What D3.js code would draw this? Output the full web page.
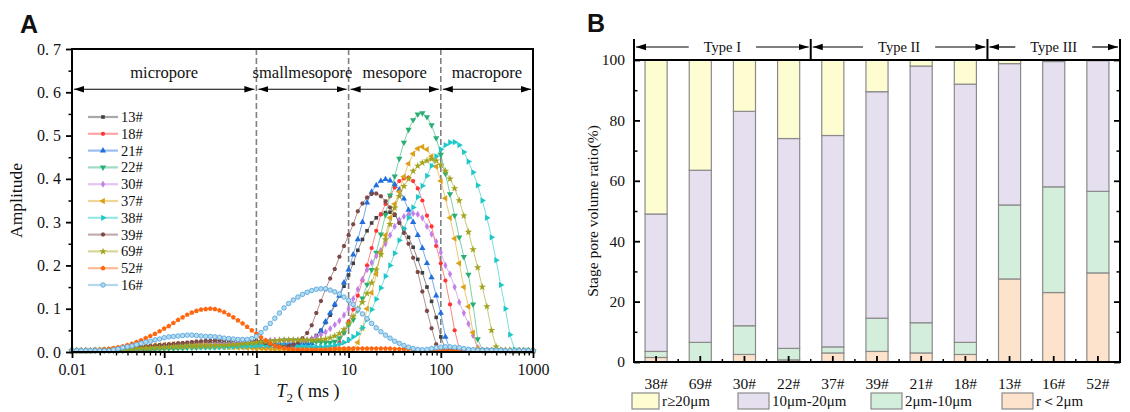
<!DOCTYPE html>
<html>
<head>
<meta charset="utf-8">
<script src="https://cdn.jsdelivr.net/npm/d3@7"></script>
<style>
  body { margin: 0; background: #fff; }
  svg { display: block; }
  text { font-family: "Liberation Serif", "Times New Roman", serif; fill: #111; }
</style>
</head>
<body>
<div id="chart"></div>
<script>
const width = 1130
const height = 412

// ---- panel A data : T2 grid (ms) and amplitude of each sample
const t2 = [
  0.01,0.01122,0.01259,0.01413,0.01585,0.01778,0.01995,0.02239,0.02512,0.02818,0.03162,0.03548,0.03981,0.04467,0.05012,0.05623,0.0631,0.07079,0.07943,0.08913,
  0.1,0.1122,0.1259,0.1413,0.1585,0.1778,0.1995,0.2239,0.2512,0.2818,0.3162,0.3548,0.3981,0.4467,0.5012,0.5623,0.631,0.7079,0.7943,0.8913,
  1,1.122,1.259,1.413,1.585,1.778,1.995,2.239,2.512,2.818,3.162,3.548,3.981,4.467,5.012,5.623,6.31,7.079,7.943,8.913,
  10,11.22,12.59,14.13,15.85,17.78,19.95,22.39,25.12,28.18,31.62,35.48,39.81,44.67,50.12,56.23,63.1,70.79,79.43,89.13,
  100,112.2,125.9,141.3,158.5,177.8,199.5,223.9,251.2,281.8,316.2,354.8,398.1,446.7,501.2,562.3,631,707.9,794.3,891.3,
  1000
]

const s13 = [
  0.003,0.003,0.003,0.003,0.003,0.003,0.003,0.003,0.003,0.003,
  0.003,0.004,0.004,0.005,0.006,0.007,0.008,0.009,0.011,0.012,
  0.013,0.014,0.015,0.016,0.017,0.018,0.019,0.02,0.021,0.021,
  0.022,0.022,0.022,0.022,0.022,0.022,0.022,0.021,0.021,0.02,
  0.019,0.018,0.017,0.016,0.015,0.015,0.015,0.016,0.017,0.019,
  0.022,0.025,0.03,0.038,0.05,0.068,0.085,0.108,0.13,0.152,
  0.178,0.205,0.235,0.26,0.28,0.298,0.31,0.318,0.322,0.323,
  0.316,0.302,0.285,0.265,0.242,0.214,0.183,0.15,0.117,0.08,
  0.035,0.006,0.004,0.004,0.004,0.004,0.004,0.004,0.004,0.004,
  0.004,0.004,0.004,0.004,0.003,0.003,0.003,0.003,0.003,0.003,
  0.003]
const s18 = [
  0.003,0.003,0.003,0.003,0.003,0.003,0.003,0.003,0.003,0.003,
  0.003,0.003,0.004,0.004,0.005,0.005,0.006,0.007,0.008,0.009,
  0.01,0.011,0.012,0.012,0.013,0.013,0.014,0.014,0.014,0.014,
  0.014,0.014,0.014,0.013,0.013,0.013,0.012,0.012,0.012,0.011,
  0.011,0.011,0.01,0.01,0.01,0.01,0.01,0.01,0.01,0.01,
  0.01,0.01,0.01,0.01,0.01,0.01,0.01,0.012,0.022,0.044,
  0.07,0.098,0.13,0.165,0.2,0.24,0.28,0.318,0.342,0.36,
  0.38,0.395,0.401,0.403,0.395,0.378,0.35,0.315,0.29,0.245,
  0.205,0.165,0.11,0.05,0.008,0.004,0.004,0.004,0.004,0.004,
  0.004,0.004,0.004,0.004,0.003,0.003,0.003,0.003,0.003,0.003,
  0.003]
const s21 = [
  0.003,0.003,0.003,0.003,0.003,0.003,0.003,0.003,0.003,0.003,
  0.003,0.004,0.004,0.005,0.006,0.006,0.007,0.008,0.009,0.01,
  0.011,0.012,0.012,0.013,0.013,0.014,0.014,0.015,0.015,0.016,
  0.016,0.017,0.017,0.018,0.018,0.019,0.019,0.02,0.02,0.021,
  0.021,0.021,0.02,0.02,0.02,0.019,0.019,0.019,0.019,0.019,
  0.019,0.019,0.02,0.026,0.048,0.07,0.09,0.11,0.13,0.16,
  0.19,0.225,0.26,0.3,0.345,0.37,0.385,0.395,0.399,0.396,
  0.387,0.375,0.354,0.328,0.3,0.27,0.24,0.205,0.172,0.13,
  0.09,0.035,0.006,0.004,0.004,0.004,0.004,0.004,0.004,0.004,
  0.004,0.004,0.004,0.004,0.003,0.003,0.003,0.003,0.003,0.003,
  0.003]
const s22 = [
  0.003,0.003,0.003,0.003,0.003,0.003,0.003,0.003,0.003,0.003,
  0.003,0.003,0.004,0.004,0.004,0.005,0.005,0.006,0.006,0.007,
  0.007,0.008,0.008,0.009,0.009,0.01,0.01,0.01,0.011,0.011,
  0.011,0.011,0.012,0.012,0.013,0.013,0.014,0.015,0.016,0.018,
  0.02,0.022,0.024,0.025,0.026,0.026,0.027,0.027,0.027,0.027,
  0.026,0.026,0.025,0.024,0.023,0.022,0.022,0.024,0.032,0.045,
  0.062,0.075,0.097,0.124,0.156,0.19,0.23,0.272,0.317,0.362,
  0.406,0.447,0.484,0.514,0.536,0.549,0.552,0.543,0.524,0.494,
  0.456,0.412,0.365,0.315,0.265,0.22,0.179,0.11,0.03,0.005,
  0.004,0.004,0.004,0.004,0.003,0.003,0.003,0.003,0.003,0.003,
  0.003]
const s30 = [
  0.003,0.003,0.003,0.003,0.003,0.004,0.004,0.004,0.005,0.005,
  0.006,0.006,0.007,0.008,0.008,0.009,0.01,0.011,0.012,0.013,
  0.014,0.015,0.015,0.016,0.016,0.017,0.017,0.018,0.018,0.018,
  0.018,0.019,0.019,0.019,0.019,0.02,0.02,0.021,0.022,0.023,
  0.024,0.025,0.026,0.027,0.027,0.027,0.027,0.027,0.027,0.027,
  0.027,0.028,0.031,0.035,0.04,0.046,0.054,0.063,0.072,0.085,
  0.1,0.123,0.145,0.168,0.19,0.207,0.222,0.235,0.25,0.27,
  0.29,0.305,0.313,0.318,0.32,0.318,0.31,0.29,0.272,0.255,
  0.23,0.2,0.18,0.15,0.115,0.09,0.065,0.038,0.01,0.004,
  0.004,0.004,0.004,0.004,0.003,0.003,0.003,0.003,0.003,0.003,
  0.003]
const s37 = [
  0.003,0.003,0.003,0.003,0.003,0.004,0.004,0.005,0.005,0.006,
  0.007,0.008,0.009,0.01,0.011,0.012,0.013,0.014,0.015,0.016,
  0.017,0.017,0.018,0.018,0.018,0.018,0.018,0.017,0.017,0.016,
  0.015,0.014,0.013,0.012,0.011,0.011,0.01,0.01,0.009,0.009,
  0.008,0.008,0.007,0.007,0.006,0.006,0.006,0.005,0.005,0.005,
  0.005,0.005,0.005,0.005,0.005,0.005,0.005,0.005,0.005,0.005,
  0.004,0.006,0.022,0.055,0.1,0.137,0.18,0.23,0.27,0.31,
  0.342,0.37,0.405,0.435,0.458,0.47,0.474,0.468,0.452,0.428,
  0.395,0.355,0.31,0.262,0.205,0.15,0.105,0.045,0.008,0.004,
  0.004,0.004,0.004,0.004,0.003,0.003,0.003,0.003,0.003,0.003,
  0.003]
const s38 = [
  0.003,0.003,0.003,0.003,0.003,0.004,0.004,0.005,0.005,0.006,
  0.006,0.007,0.007,0.008,0.008,0.009,0.009,0.01,0.01,0.011,
  0.011,0.011,0.012,0.012,0.012,0.012,0.012,0.012,0.012,0.012,
  0.012,0.012,0.012,0.012,0.012,0.012,0.013,0.013,0.013,0.014,
  0.014,0.015,0.015,0.015,0.015,0.015,0.014,0.014,0.013,0.013,
  0.013,0.012,0.012,0.012,0.012,0.013,0.014,0.016,0.018,0.022,
  0.028,0.035,0.042,0.056,0.075,0.098,0.122,0.148,0.175,0.2,
  0.228,0.258,0.285,0.31,0.334,0.358,0.384,0.407,0.43,0.452,
  0.468,0.478,0.484,0.485,0.478,0.462,0.44,0.415,0.385,0.35,
  0.31,0.265,0.212,0.155,0.1,0.04,0.006,0.004,0.004,0.004,
  0.003]
const s39 = [
  0.003,0.003,0.003,0.003,0.003,0.004,0.004,0.005,0.005,0.006,
  0.007,0.008,0.009,0.01,0.011,0.012,0.013,0.014,0.015,0.016,
  0.017,0.018,0.019,0.02,0.021,0.022,0.023,0.024,0.025,0.026,
  0.026,0.027,0.027,0.028,0.028,0.028,0.028,0.028,0.027,0.027,
  0.026,0.024,0.021,0.018,0.015,0.013,0.012,0.014,0.017,0.022,
  0.032,0.044,0.062,0.09,0.118,0.145,0.17,0.192,0.22,0.245,
  0.27,0.295,0.325,0.343,0.357,0.365,0.366,0.36,0.348,0.334,
  0.318,0.298,0.275,0.25,0.218,0.185,0.14,0.095,0.055,0.018,
  0.005,0.004,0.004,0.004,0.004,0.004,0.004,0.004,0.004,0.004,
  0.004,0.004,0.004,0.004,0.003,0.003,0.003,0.003,0.003,0.003,
  0.003]
const s69 = [
  0.003,0.003,0.003,0.003,0.003,0.004,0.004,0.004,0.005,0.005,
  0.006,0.006,0.007,0.007,0.008,0.008,0.009,0.009,0.01,0.01,
  0.011,0.011,0.012,0.012,0.012,0.013,0.013,0.013,0.014,0.014,
  0.014,0.015,0.015,0.016,0.016,0.017,0.018,0.019,0.02,0.021,
  0.022,0.023,0.024,0.025,0.026,0.027,0.028,0.028,0.028,0.028,
  0.028,0.028,0.028,0.028,0.029,0.03,0.033,0.037,0.043,0.052,
  0.066,0.082,0.1,0.115,0.135,0.16,0.19,0.225,0.26,0.295,
  0.333,0.36,0.383,0.4,0.418,0.43,0.437,0.442,0.446,0.442,
  0.432,0.418,0.4,0.378,0.35,0.315,0.277,0.237,0.195,0.15,
  0.105,0.05,0.012,0.004,0.004,0.004,0.003,0.003,0.003,0.003,
  0.003]
const s52 = [
  0.003,0.003,0.003,0.003,0.003,0.004,0.005,0.006,0.007,0.009,
  0.011,0.013,0.016,0.019,0.023,0.027,0.032,0.037,0.042,0.048,
  0.054,0.06,0.067,0.074,0.08,0.086,0.091,0.095,0.098,0.099,
  0.1,0.099,0.096,0.092,0.086,0.08,0.073,0.066,0.058,0.05,
  0.042,0.034,0.027,0.02,0.015,0.012,0.009,0.007,0.006,0.005,
  0.005,0.005,0.005,0.005,0.005,0.005,0.006,0.007,0.008,0.008,
  0.008,0.008,0.008,0.008,0.008,0.008,0.008,0.008,0.008,0.008,
  0.007,0.007,0.006,0.006,0.005,0.005,0.004,0.003,0.003,0.003,
  0.003,0.003,0.003,0.003,0.003,0.003,0.003,0.003,0.003,0.003,
  0.003,0.003,0.003,0.003,0.003,0.003,0.003,0.003,0.003,0.003,
  0.003]
const s16 = [
  0.003,0.003,0.003,0.003,0.003,0.003,0.003,0.003,0.003,0.005,
  0.007,0.01,0.012,0.014,0.017,0.02,0.023,0.025,0.028,0.03,
  0.033,0.035,0.036,0.037,0.038,0.039,0.039,0.038,0.037,0.036,
  0.036,0.035,0.034,0.032,0.031,0.03,0.029,0.029,0.029,0.031,
  0.036,0.045,0.055,0.066,0.078,0.09,0.102,0.112,0.12,0.127,
  0.133,0.138,0.142,0.145,0.146,0.146,0.143,0.139,0.134,0.127,
  0.119,0.11,0.099,0.088,0.077,0.066,0.056,0.047,0.039,0.032,
  0.025,0.02,0.015,0.011,0.008,0.006,0.005,0.006,0.008,0.01,
  0.011,0.012,0.012,0.011,0.01,0.008,0.006,0.005,0.004,0.004,
  0.004,0.004,0.004,0.004,0.003,0.003,0.003,0.003,0.003,0.003,
  0.003]

const samplesA = ["13#", "18#", "21#", "22#", "30#", "37#", "38#", "39#", "69#", "52#", "16#"]
const valuesA = [s13, s18, s21, s22, s30, s37, s38, s39, s69, s52, s16]
const regionNames = ["micropore", "smallmesopore", "mesopore", "macropore"]
const regionBounds = [0.01, 1, 10, 100, 1000]
const xTicksA = [0.01, 0.1, 1, 10, 100, 1000]
const yTicksA = [0, 0.1, 0.2, 0.3, 0.4, 0.5, 0.6, 0.7]

// ---- panel B data : stage pore volume ratio (%)
const samplesB = ["38#", "69#", "30#", "22#", "37#", "39#", "21#", "18#", "13#", "16#", "52#"]
const stageLt2    = [1.5, 0,   2.5, 0.7, 3,  3.5, 3,  2.5, 27.5, 23,   29.5]
const stage2to10  = [2,   6.5, 9.5, 3.8, 2,  11,  10, 4,   24.5, 35,   27]
const stage10to20 = [45.5, 57, 71,  69.5, 70, 75, 85, 85.5, 46.8, 41.5, 43.3]
const stageGe20   = [51, 36.5, 17,  26,  25, 10.5, 2,  8,   1.2,  0.5,  0.2]
const stageNames  = ["r≥20μm", "10μm-20μm", "2μm-10μm", "r＜2μm"]
const typeNames   = ["Type I", "Type II", "Type III"]
const typeStarts  = [0, 4, 8, 11]
const yTicksB = [0, 20, 40, 60, 80, 100]

const svg = d3.select("#chart")
  .append("svg")
    .attr("width", width)
    .attr("height", height)

const defs = svg.append("defs")
defs.append("marker")
  .attr("id", "arr")
  .attr("viewBox", "0 0 10 8")
  .attr("refX", 10).attr("refY", 4)
  .attr("markerWidth", 10).attr("markerHeight", 8)
  .attr("markerUnits", "userSpaceOnUse")
  .attr("orient", "auto-start-reverse")
  .append("path").attr("d", "M0,0.8 L10,4 L0,7.2 Z").attr("fill", "#000")

// ================= panel A =================
const x = d3.scaleLog().domain([0.01, 1000]).range([72, 533])
const y = d3.scaleLinear().domain([0, 0.7]).range([352, 49])

const colorsA = ["#404040", "#ff3535", "#1f6fdf", "#28b074", "#c27fe8", "#dda118",
                 "#1ec8c8", "#7d4848", "#a3a31e", "#ff6610", "#5aa8dc"]

const hexagon = { draw(ctx, size) {
  const r = Math.sqrt(size / 2.598)
  for (let k = 0; k < 6; k++) {
    const a = Math.PI / 3 * k
    k ? ctx.lineTo(r * Math.cos(a), r * Math.sin(a)) : ctx.moveTo(r * Math.cos(a), r * Math.sin(a))
  }
  ctx.closePath()
}}
const pentagon = { draw(ctx, size) {
  const r = Math.sqrt(size / 2.378)
  for (let k = 0; k < 5; k++) {
    const a = -Math.PI / 2 + 2 * Math.PI / 5 * k
    k ? ctx.lineTo(r * Math.cos(a), r * Math.sin(a)) : ctx.moveTo(r * Math.cos(a), r * Math.sin(a))
  }
  ctx.closePath()
}}
const symbols = [
  [d3.symbolSquare, 13, 0], [d3.symbolCircle, 14, 0], [d3.symbolTriangle, 17, 0],
  [d3.symbolTriangle, 17, 180], [d3.symbolDiamond, 15, 0], [d3.symbolTriangle, 17, -90],
  [d3.symbolTriangle, 17, 90], [hexagon, 14, 0], [d3.symbolStar, 18, 0],
  [pentagon, 16, 0], [d3.symbolCircle, 16, 0]
]

const gA = svg.append("g")

// region dividers
gA.selectAll(".divider")
  .data(regionBounds.slice(1, 4))
  .join("line")
    .attr("x1", d => x(d)).attr("x2", d => x(d))
    .attr("y1", y(0.7)).attr("y2", y(0))
    .attr("stroke", "#808080")
    .attr("stroke-width", 1.6)
    .attr("stroke-dasharray", "6,3")

// region arrows and names
regionNames.forEach((name, i) => {
  const x0 = x(regionBounds[i]), x1 = x(regionBounds[i + 1])
  gA.append("line")
    .attr("x1", x0 + 2).attr("x2", x1 - 2)
    .attr("y1", y(0.607)).attr("y2", y(0.607))
    .attr("stroke", "#000").attr("stroke-width", 1.2)
    .attr("marker-start", "url(#arr)").attr("marker-end", "url(#arr)")
  gA.append("text")
    .attr("x", (x0 + x1) / 2).attr("y", y(0.645) + 5)
    .attr("text-anchor", "middle")
    .style("font-size", "16.5px")
    .text(name)
})

// curves
const line = d3.line().x(d => x(d[0])).y(d => y(d[1]))
valuesA.forEach((vals, k) => {
  const pts = vals.map((v, i) => [t2[i], v]).filter(d => d[0] !== undefined)
  gA.append("path")
    .attr("d", line(pts))
    .attr("fill", "none")
    .attr("stroke", colorsA[k])
    .attr("stroke-opacity", 0.6)
    .attr("stroke-width", 1)
  const sym = d3.symbol().type(symbols[k][0]).size(symbols[k][1])
  gA.append("g").selectAll("path")
    .data(pts)
    .join("path")
      .attr("d", sym)
      .attr("transform", d => `translate(${x(d[0])},${y(d[1])}) rotate(${symbols[k][2]})`)
      .attr("fill", k === 10 ? "#b4daf2" : colorsA[k])
      .attr("stroke", k === 10 ? colorsA[k] : "none")
      .attr("stroke-width", 0.9)
})

// legend
const legA = gA.append("g")
samplesA.forEach((name, k) => {
  const ly = 117 + k * 16.8
  legA.append("line")
    .attr("x1", 88).attr("x2", 118).attr("y1", ly).attr("y2", ly)
    .attr("stroke", colorsA[k]).attr("stroke-opacity", 0.45).attr("stroke-width", 2.2)
  legA.append("path")
    .attr("d", d3.symbol().type(symbols[k][0]).size(symbols[k][1])())
    .attr("transform", `translate(103,${ly}) rotate(${symbols[k][2]})`)
    .attr("fill", k === 10 ? "#b4daf2" : colorsA[k])
    .attr("stroke", k === 10 ? colorsA[k] : "none")
    .attr("stroke-width", 0.9)
  legA.append("text")
    .attr("x", 121).attr("y", ly + 5)
    .style("font-size", "14.5px")
    .text(name)
})

// axes A
const minorX = []
for (let dec = 0.01; dec < 1000; dec *= 10)
  for (let m = 2; m <= 9; m++) minorX.push(+(m * dec).toPrecision(3))
const minorY = yTicksA.slice(0, 7).map(d => +(d + 0.05).toFixed(2))

gA.append("g")
  .attr("transform", `translate(0,${y(0)})`)
  .call(d3.axisBottom(x).tickValues(minorX).tickSize(3.5).tickFormat(""))
  .call(g => g.select(".domain").remove())
  .call(g => g.selectAll("line").attr("stroke-width", 1.3))
gA.append("g")
  .attr("transform", `translate(0,${y(0)})`)
  .call(d3.axisBottom(x).tickValues(xTicksA).tickSize(6).tickPadding(6).tickFormat(d => String(d)))
  .call(g => g.select(".domain").remove())
  .call(g => g.selectAll("line").attr("stroke-width", 1.8))
  .call(g => g.selectAll("text").style("font-size", "16px").style("font-family", "Liberation Serif"))

gA.append("g")
  .attr("transform", `translate(${x(0.01)},0)`)
  .call(d3.axisLeft(y).tickValues(minorY).tickSize(3.5).tickFormat(""))
  .call(g => g.select(".domain").remove())
  .call(g => g.selectAll("line").attr("stroke-width", 1.5))
gA.append("g")
  .attr("transform", `translate(${x(0.01)},0)`)
  .call(d3.axisLeft(y).tickValues(yTicksA).tickSize(6).tickPadding(5)
        .tickFormat(d => d.toFixed(1).replace(".", ". ")))
  .call(g => g.select(".domain").remove())
  .call(g => g.selectAll("line").attr("stroke-width", 1.8))
  .call(g => g.selectAll("text").style("font-size", "16px").style("font-family", "Liberation Serif"))

gA.append("rect")
  .attr("x", x(0.01)).attr("y", y(0.7))
  .attr("width", x(1000) - x(0.01)).attr("height", y(0) - y(0.7))
  .attr("fill", "none").attr("stroke", "#000").attr("stroke-width", 2)

const xl = gA.append("text")
  .attr("x", 308).attr("y", 397)
  .attr("text-anchor", "middle")
  .style("font-size", "18px")
xl.append("tspan").style("font-style", "italic").text("T")
xl.append("tspan").attr("dy", 5).style("font-size", "13px").text("2")
xl.append("tspan").attr("dy", -5).text(" ( ms )")

gA.append("text")
  .attr("transform", `translate(22,${(y(0) + y(0.7)) / 2}) rotate(-90)`)
  .attr("text-anchor", "middle")
  .style("font-size", "17.5px")
  .text("Amplitude")

svg.append("text")
  .attr("x", 20).attr("y", 33)
  .style("font-family", "Liberation Sans, Arial, sans-serif")
  .style("font-weight", "bold").style("font-size", "25px")
  .text("A")

// ================= panel B =================
const xb = d3.scaleBand().domain(samplesB).range([634, 1120]).paddingInner(0.5).paddingOuter(0.25)
const yb = d3.scaleLinear().domain([0, 100]).range([362, 60])
const keys = ["lt2", "b2_10", "b10_20", "ge20"]
const fills = { lt2: "#fde3cc", b2_10: "#d3efdb", b10_20: "#e5dff0", ge20: "#fefdd2" }

const table = samplesB.map((s, i) => ({
  sample: s, lt2: stageLt2[i], b2_10: stage2to10[i], b10_20: stage10to20[i], ge20: stageGe20[i]
}))
const layers = d3.stack().keys(keys)(table)

const gB = svg.append("g")
gB.selectAll("g.layer")
  .data(layers)
  .join("g")
    .attr("class", "layer")
    .attr("fill", d => fills[d.key])
  .selectAll("rect")
  .data(d => d)
  .join("rect")
    .attr("x", d => xb(d.data.sample))
    .attr("y", d => yb(d[1]))
    .attr("width", xb.bandwidth())
    .attr("height", d => yb(d[0]) - yb(d[1]))
    .attr("stroke", "#8a8a8a")
    .attr("stroke-width", 1.2)

// x ticks (inward)
gB.selectAll(".xtick")
  .data(samplesB)
  .join("line")
    .attr("x1", d => xb(d) + xb.bandwidth() / 2).attr("x2", d => xb(d) + xb.bandwidth() / 2)
    .attr("y1", yb(0)).attr("y2", yb(0) - 6)
    .attr("stroke", "#000").attr("stroke-width", 1.8)
gB.selectAll(".xminor")
  .data(d3.range(1, samplesB.length))
  .join("line")
    .attr("x1", k => 634 + k * xb.step()).attr("x2", k => 634 + k * xb.step())
    .attr("y1", yb(0)).attr("y2", yb(0) - 3)
    .attr("stroke", "#000").attr("stroke-width", 1.5)
gB.selectAll(".xlab")
  .data(samplesB)
  .join("text")
    .attr("x", d => xb(d) + xb.bandwidth() / 2)
    .attr("y", 389)
    .attr("text-anchor", "middle")
    .style("font-size", "15.5px")
    .text(d => d)

// y axes (ticks inward)
const minorB = [10, 30, 50, 70, 90]
gB.append("g")
  .attr("transform", "translate(634,0)")
  .call(d3.axisLeft(yb).tickValues(yTicksB).tickSize(-6).tickPadding(9))
  .call(g => g.select(".domain").remove())
  .call(g => g.selectAll("line").attr("stroke-width", 1.8))
  .call(g => g.selectAll("text").style("font-size", "15.5px").style("font-family", "Liberation Serif"))
gB.append("g")
  .attr("transform", "translate(634,0)")
  .call(d3.axisLeft(yb).tickValues(minorB).tickSize(-3.5).tickFormat(""))
  .call(g => g.select(".domain").remove())
  .call(g => g.selectAll("line").attr("stroke-width", 1.5))
gB.append("g")
  .attr("transform", "translate(1120,0)")
  .call(d3.axisRight(yb).tickValues(yTicksB).tickSize(-6).tickFormat(""))
  .call(g => g.select(".domain").remove())
  .call(g => g.selectAll("line").attr("stroke-width", 1.8))
gB.append("g")
  .attr("transform", "translate(1120,0)")
  .call(d3.axisRight(yb).tickValues(minorB).tickSize(-3.5).tickFormat(""))
  .call(g => g.select(".domain").remove())
  .call(g => g.selectAll("line").attr("stroke-width", 1.5))

gB.append("rect")
  .attr("x", 634).attr("y", yb(100))
  .attr("width", 1120 - 634).attr("height", yb(0) - yb(100))
  .attr("fill", "none").attr("stroke", "#000").attr("stroke-width", 2)

gB.append("text")
  .attr("transform", `translate(598,${(yb(0) + yb(100)) / 2}) rotate(-90)`)
  .attr("text-anchor", "middle")
  .style("font-size", "15.5px")
  .text("Stage pore volume ratio(%)")

// type brackets
const bx = k => 634 + k * xb.step()
typeStarts.forEach(k => {
  gB.append("line")
    .attr("x1", bx(k)).attr("x2", bx(k))
    .attr("y1", 39).attr("y2", yb(100))
    .attr("stroke", "#000").attr("stroke-width", 2)
})
typeNames.forEach((name, i) => {
  const x0 = bx(typeStarts[i]), x1 = bx(typeStarts[i + 1]), cx = (x0 + x1) / 2
  const t = gB.append("text")
    .attr("x", cx).attr("y", 52)
    .attr("text-anchor", "middle")
    .style("font-size", "14.5px")
    .text(name)
  const half = t.node().getComputedTextLength() / 2 + 15
  gB.append("line")
    .attr("x1", cx - half).attr("x2", x0 + 2).attr("y1", 47).attr("y2", 47)
    .attr("stroke", "#000").attr("stroke-width", 1.2).attr("marker-end", "url(#arr)")
  gB.append("line")
    .attr("x1", cx + half).attr("x2", x1 - 2).attr("y1", 47).attr("y2", 47)
    .attr("stroke", "#000").attr("stroke-width", 1.2).attr("marker-end", "url(#arr)")
})

// legend B
const legKeys = ["ge20", "b10_20", "b2_10", "lt2"]
const legX = [632, 738, 871, 1002]
legKeys.forEach((key, i) => {
  gB.append("rect")
    .attr("x", legX[i]).attr("y", 393)
    .attr("width", i === 0 ? 27 : 31).attr("height", 16)
    .attr("fill", fills[key]).attr("stroke", "#8a8a8a").attr("stroke-width", 1.2)
  gB.append("text")
    .attr("x", legX[i] + (i === 0 ? 30 : 34)).attr("y", 406)
    .style("font-size", "15px")
    .text(stageNames[i])
})

svg.append("text")
  .attr("x", 587).attr("y", 32)
  .style("font-family", "Liberation Sans, Arial, sans-serif")
  .style("font-weight", "bold").style("font-size", "25px")
  .text("B")
</script>
</body>
</html>
